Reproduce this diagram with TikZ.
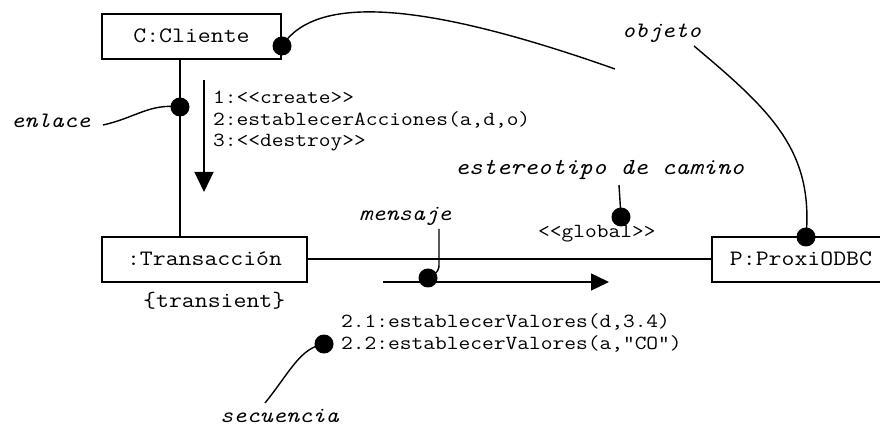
\documentclass[tikz,border=0pt]{standalone}
\usepackage{fontspec}
\setmonofont{Latin Modern Mono}[FakeStretch=1.14]
\usetikzlibrary{arrows.meta}
\newcommand\umlbig{\fontsize{22}{22}\selectfont\ttfamily}
\newcommand\umlsmall{\fontsize{20}{20}\selectfont\ttfamily}
\newcommand\umlnote{\fontsize{22}{22}\selectfont\ttfamily\itshape}
\tikzset{
  objbox/.style={draw, line width=1.8pt, font=\umlbig, inner sep=0pt,
                 text height=13pt, text depth=0pt, minimum height=45pt},
  blob/.style={circle, fill=black, inner sep=0pt, minimum size=19pt},
  msgtext/.style={font=\umlsmall, anchor=base west, inner sep=0pt},
  bigtext/.style={font=\umlbig, anchor=base west, inner sep=0pt},
  notetext/.style={font=\umlnote, anchor=base west, inner sep=0pt},
  linkline/.style={line width=1.3pt},
  msgline/.style={line width=1.3pt},
  lead/.style={line width=1.4pt},
}
\begin{document}
\begin{tikzpicture}[x=1pt,y=-1pt]
\useasboundingbox (0,0) rectangle (880,427);
\clip (0,0) rectangle (880,427);

% objects
\node[objbox, minimum width=179pt] (cliente) at (191.5,36.5) {C:Cliente};
\node[objbox, minimum width=205pt] (trans) at (204.5,259.5) {:Transacción};
\node[objbox, minimum width=178pt] (proxi) at (801,259.5) {P:ProxiODBC};

% links
\coordinate (lk) at (180,0);
\draw[linkline] (cliente.south -| lk) -- (trans.north -| lk);
\draw[line width=2pt] (trans.east) -- (proxi.west);

% message arrows
\coordinate (ca) at (204,80);
\coordinate (cb) at (204,192);
\draw[msgline, -{Triangle[length=20pt,width=19pt]}] (ca) -- (cb);
\coordinate (ha) at (383,282);
\coordinate (hb) at (609,282);
\draw[msgline, -{Triangle[length=18pt,width=17pt]}] (ha) -- (hb);

% message texts
\node[msgtext] (m1) at (213,104) {1:<<create>>};
\node[msgtext] (m2) at (213,126) {2:establecerAcciones(a,d,o)};
\node[msgtext] (m3) at (213,147) {3:<<destroy>>};
\node[msgtext] (glob) at (538,238) {<<global>>};
\node[bigtext] (transient) at (143,308) {\{transient\}};
\node[msgtext] (v1) at (341,327) {2.1:establecerValores(d,3.4)};
\node[msgtext] (v2) at (341,349) {2.2:establecerValores(a,”CO”)};

% annotation labels
\node[notetext] (enl) at (11,128) {enlace};
\node[notetext] (objl) at (622,38) {objeto};
\node[notetext, font=\fontsize{23}{23}\selectfont\ttfamily\itshape] (este) at (455,175) {estereotipo de camino};
\node[notetext] (mens) at (359,221) {mensaje};
\node[notetext] (secu) at (220,422) {secuencia};

% annotation dots
\node[blob] (dcli) at (282,46) {};
\node[blob] (denl) at (180,107) {};
\node[blob] (dglob) at (621,217) {};
\node[blob] (dproxi) at (806,237) {};
\node[blob] (dmens) at (428,278) {};
\node[blob] (dsec) at (324,344) {};

% annotation leaders
\coordinate (objfar) at (615,69);
\coordinate (objtail) at (694,46);
\coordinate (enltail) at (103,125);
\coordinate (esttail) at (619,185);
\coordinate (menstail) at (439,229);
\coordinate (menskink) at (439,262);
\coordinate (sectail) at (265,403);
\draw[lead] (dcli.center) .. controls (315,-5) and (420,0) .. (objfar);
\draw[lead] (objtail) .. controls (770,110) and (814,150) .. (dproxi.center);
\draw[lead] (denl.center) .. controls (150,103) and (135,118) .. (enltail);
\draw[lead] (esttail) -- (dglob.center);
\draw[lead] (menstail) -- (menskink) .. controls (439,271) .. (dmens.center);
\draw[lead] (dsec.center) .. controls (300,348) and (290,372) .. (sectail);
\end{tikzpicture}
\end{document}
